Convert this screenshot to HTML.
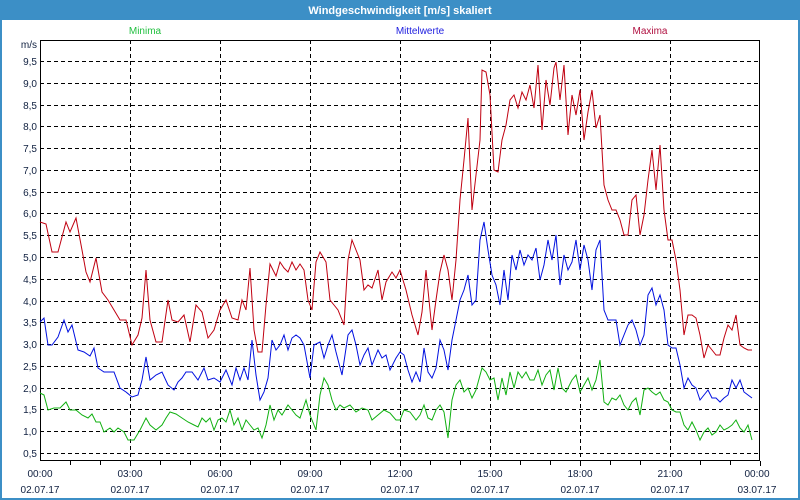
<!DOCTYPE html>
<html><head><meta charset="utf-8"><style>
html,body{margin:0;padding:0;background:#fff;}
svg{display:block;font-family:"Liberation Sans",sans-serif;}
</style></head><body>
<svg width="800" height="500" viewBox="0 0 800 500" xmlns="http://www.w3.org/2000/svg">
<rect x="0" y="0" width="800" height="500" fill="#3c8fc6"/>
<rect x="2" y="20" width="796" height="478" fill="#ffffff"/>
<text x="400" y="14" text-anchor="middle" font-size="11" font-weight="bold" fill="#fff">Windgeschwindigkeit [m/s] skaliert</text>
<text x="145" y="34" text-anchor="middle" font-size="10" fill="#22c040">Minima</text>
<text x="420" y="34" text-anchor="middle" font-size="10" fill="#2020e0">Mittelwerte</text>
<text x="650" y="34" text-anchor="middle" font-size="10" fill="#b01040">Maxima</text>
<g stroke="#000" stroke-width="1" stroke-dasharray="4,3" shape-rendering="crispEdges">
<line x1="40" x2="760" y1="61.5" y2="61.5"/><line x1="40" x2="760" y1="83.5" y2="83.5"/><line x1="40" x2="760" y1="105.5" y2="105.5"/><line x1="40" x2="760" y1="126.5" y2="126.5"/><line x1="40" x2="760" y1="148.5" y2="148.5"/><line x1="40" x2="760" y1="170.5" y2="170.5"/><line x1="40" x2="760" y1="192.5" y2="192.5"/><line x1="40" x2="760" y1="213.5" y2="213.5"/><line x1="40" x2="760" y1="235.5" y2="235.5"/><line x1="40" x2="760" y1="257.5" y2="257.5"/><line x1="40" x2="760" y1="279.5" y2="279.5"/><line x1="40" x2="760" y1="301.5" y2="301.5"/><line x1="40" x2="760" y1="322.5" y2="322.5"/><line x1="40" x2="760" y1="344.5" y2="344.5"/><line x1="40" x2="760" y1="366.5" y2="366.5"/><line x1="40" x2="760" y1="388.5" y2="388.5"/><line x1="40" x2="760" y1="409.5" y2="409.5"/><line x1="40" x2="760" y1="431.5" y2="431.5"/><line x1="40" x2="760" y1="453.5" y2="453.5"/>
<line x1="130.5" x2="130.5" y1="40" y2="460"/><line x1="220.5" x2="220.5" y1="40" y2="460"/><line x1="310.5" x2="310.5" y1="40" y2="460"/><line x1="400.5" x2="400.5" y1="40" y2="460"/><line x1="490.5" x2="490.5" y1="40" y2="460"/><line x1="580.5" x2="580.5" y1="40" y2="460"/><line x1="670.5" x2="670.5" y1="40" y2="460"/>
</g>
<g stroke="#000" stroke-width="1" shape-rendering="crispEdges">
<rect x="40.5" y="40.5" width="719" height="420" fill="none"/>
<path d="M70.5 461v4M100.5 461v4M130.5 461v5M160.5 461v4M190.5 461v4M220.5 461v5M250.5 461v4M280.5 461v4M310.5 461v5M340.5 461v4M370.5 461v4M400.5 461v5M430.5 461v4M460.5 461v4M490.5 461v5M520.5 461v4M550.5 461v4M580.5 461v5M610.5 461v4M640.5 461v4M670.5 461v5M700.5 461v4M730.5 461v4M760.5 461v5"/>
</g>
<g font-size="10" fill="#102040" text-anchor="end">
<text x="37" y="48">m/s</text>
<text x="37" y="65">9,5</text><text x="37" y="87">9,0</text><text x="37" y="109">8,5</text><text x="37" y="130">8,0</text><text x="37" y="152">7,5</text><text x="37" y="174">7,0</text><text x="37" y="196">6,5</text><text x="37" y="217">6,0</text><text x="37" y="239">5,5</text><text x="37" y="261">5,0</text><text x="37" y="283">4,5</text><text x="37" y="305">4,0</text><text x="37" y="326">3,5</text><text x="37" y="348">3,0</text><text x="37" y="370">2,5</text><text x="37" y="392">2,0</text><text x="37" y="413">1,5</text><text x="37" y="435">1,0</text><text x="37" y="457">0,5</text>
</g>
<g font-size="10" fill="#102040" text-anchor="middle">
<text x="40" y="477">00:00</text><text x="130" y="477">03:00</text><text x="220" y="477">06:00</text><text x="310" y="477">09:00</text><text x="400" y="477">12:00</text><text x="490" y="477">15:00</text><text x="580" y="477">18:00</text><text x="670" y="477">21:00</text><text x="757" y="477">00:00</text>
<text x="40" y="493">02.07.17</text><text x="130" y="493">02.07.17</text><text x="220" y="493">02.07.17</text><text x="310" y="493">02.07.17</text><text x="400" y="493">02.07.17</text><text x="490" y="493">02.07.17</text><text x="580" y="493">02.07.17</text><text x="670" y="493">02.07.17</text><text x="757" y="493">03.07.17</text>
</g>
<g fill="none" stroke-width="1">
<polyline stroke="#c00010" points="40,222 46,224 52,252 58,252 66,222 70,232 76,218 82,250 86,272 90,282 96,258 102,292 108,300 114,310 120,320 126,320 132,345 138,335 142,318 146,270 150,320 156,342 162,342 168,300 172,320 178,322 184,315 190,342 196,305 202,312 208,338 214,330 220,310 226,300 232,318 238,320 242,300 246,310 250,268 254,330 258,352 262,352 266,305 270,264 276,276 280,262 284,268 288,272 292,262 296,270 300,264 304,270 308,300 312,310 316,262 320,252 326,262 330,300 334,305 338,310 344,325 348,260 352,240 356,250 360,260 364,290 368,285 372,288 378,270 382,300 386,282 392,272 396,278 400,270 406,290 412,315 418,335 422,312 426,270 432,330 436,300 440,272 444,255 448,270 452,300 456,260 460,200 464,160 468,118 472,210 476,175 480,140 482,70 486,72 490,95 494,170 498,172 502,140 506,125 510,100 514,95 518,108 522,92 526,100 530,85 534,108 538,65 542,130 546,80 550,105 554,68 556,62 560,100 564,65 568,135 572,95 576,115 580,90 584,140 588,112 592,90 596,128 600,115 604,185 608,200 612,210 616,210 620,220 624,235 628,235 632,200 636,195 640,235 644,215 648,180 652,150 656,190 660,145 664,210 668,240 672,240 676,260 680,290 684,335 688,315 692,315 696,318 700,335 704,358 708,345 712,350 716,355 720,355 724,338 728,325 732,330 736,315 740,345 744,348 748,350 752,350"/>
<polyline stroke="#0010e0" points="40,322 44,318 48,345 52,345 58,337 64,320 68,332 72,325 78,350 84,352 90,356 94,348 98,368 104,372 110,372 114,372 120,388 126,392 132,397 138,395 142,380 146,357 150,380 156,375 162,372 168,385 174,390 178,382 182,378 186,372 192,372 198,380 204,368 208,380 214,378 220,382 226,370 232,385 236,368 240,380 244,368 248,380 252,340 256,375 260,400 264,392 268,378 272,340 276,350 280,345 284,335 288,350 292,338 296,335 300,338 304,345 310,378 314,345 320,342 324,358 328,345 332,335 336,352 342,375 348,335 352,330 356,345 360,365 364,355 368,348 372,365 378,350 382,358 386,355 390,370 396,358 400,352 404,355 408,370 412,382 416,372 420,382 424,348 428,372 432,378 436,368 440,340 444,350 448,370 452,340 456,320 460,300 464,290 468,275 472,305 476,300 480,240 484,222 488,250 492,275 496,285 500,305 504,270 508,300 512,255 516,270 520,250 524,265 528,255 532,260 536,248 540,280 544,265 548,240 552,260 556,235 560,285 564,255 568,270 572,262 576,240 580,270 584,245 588,260 592,290 596,250 600,240 604,310 608,320 612,320 616,320 620,345 624,335 628,325 632,320 636,330 640,345 644,335 648,295 652,288 656,305 660,295 664,310 668,345 672,348 676,348 680,365 684,388 688,378 692,385 696,388 700,400 704,395 708,390 712,398 716,398 720,402 724,398 728,395 732,380 736,388 740,380 744,392 748,395 752,398"/>
<polyline stroke="#10b010" points="40,393 44,395 48,410 54,408 60,408 66,402 70,410 76,410 82,415 88,418 92,414 96,422 100,422 104,432 110,428 114,432 118,428 124,432 128,440 134,440 140,430 146,418 150,425 156,430 162,425 166,418 170,412 176,414 182,418 188,422 194,425 198,427 202,418 206,422 210,418 214,430 218,420 222,418 226,422 230,410 234,425 238,418 242,430 246,420 250,425 254,430 258,428 262,438 266,425 270,405 274,420 278,410 282,415 288,405 292,410 296,415 300,418 306,400 310,415 316,430 320,395 324,378 328,385 332,400 336,410 340,405 344,408 350,405 356,412 362,408 368,410 372,420 378,415 384,410 390,413 396,420 400,420 404,410 410,412 416,420 420,415 424,405 428,418 432,420 436,410 440,405 444,412 448,438 452,400 456,385 460,380 464,392 468,388 472,398 476,390 482,368 486,372 490,380 494,378 498,400 502,378 506,395 510,372 514,388 518,372 522,378 526,372 530,380 534,380 538,370 542,385 546,375 550,370 554,390 558,368 562,388 566,392 572,380 576,375 580,392 584,385 588,378 592,390 596,380 600,360 604,402 608,405 612,398 616,400 620,395 624,405 628,410 632,402 636,398 640,415 644,390 648,388 652,392 656,395 660,392 664,400 668,402 672,410 676,412 680,412 684,425 688,430 692,422 696,430 700,440 704,432 708,428 712,435 716,432 720,425 724,430 728,428 732,425 736,420 740,428 744,432 748,425 752,440"/>
</g>
</svg>
</body></html>
